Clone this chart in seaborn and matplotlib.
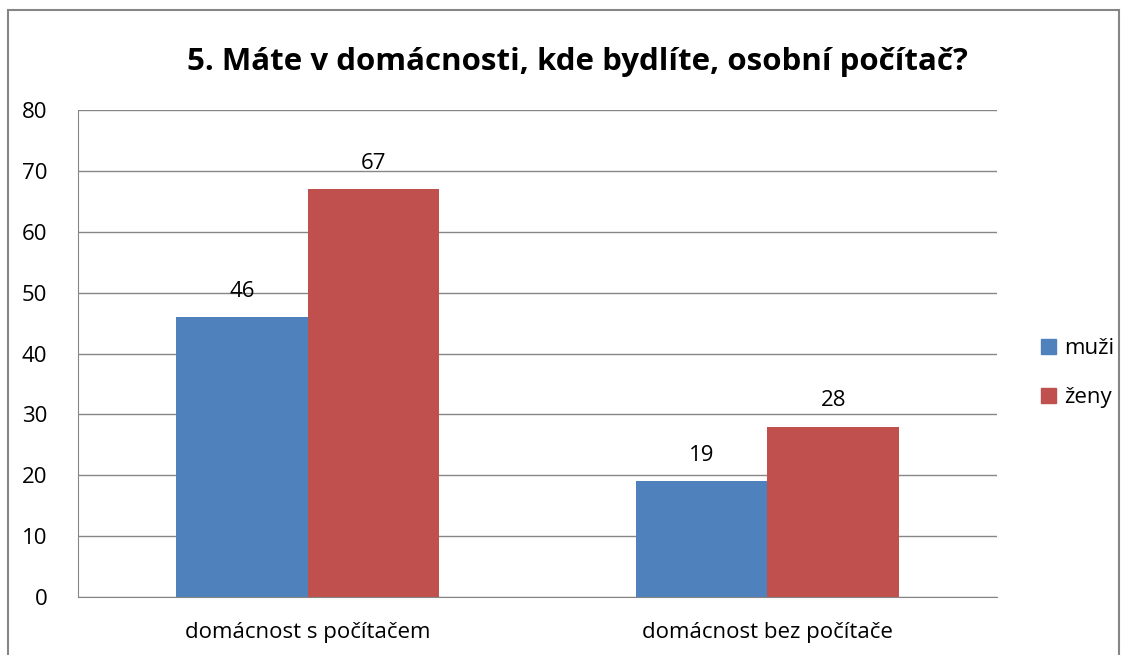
import pandas as pd
import matplotlib
import matplotlib.pyplot as plt
import seaborn as sns
from matplotlib.patches import Rectangle, Patch

matplotlib.use("Agg")

categories = ["domácnost s počítačem", "domácnost bez počítače"]
series = ["muži", "ženy"]
muzi = [46, 19]
zeny = [67, 28]
colors = ["#4F81BD", "#C0504D"]

df = pd.DataFrame({
    "kategorie": categories * 2,
    "pohlavi": [series[0]] * 2 + [series[1]] * 2,
    "pocet": muzi + zeny,
})

sns.set_style("white")
plt.rcParams["font.family"] = ["Open Sans", "DejaVu Sans"]
plt.rcParams["text.color"] = "black"

fig = plt.figure(figsize=(11.28, 6.55), dpi=100)
ax = fig.add_axes([0.0691, 0.0885, 0.815, 0.7435])

sns.barplot(data=df, x="kategorie", y="pocet", hue="pohlavi", palette=colors,
            width=0.572, gap=0, saturation=1, ax=ax, legend=False, linewidth=0)

for cont in ax.containers:
    ax.bar_label(cont, padding=11, fontsize=16, color="black")

ax.set_ylim(0, 80)
ax.set_yticks(range(0, 81, 10))
ax.yaxis.grid(True, color="#868686", linewidth=1)
ax.set_axisbelow(True)
ax.set_xlabel("")
ax.set_ylabel("")
ax.tick_params(axis="both", labelsize=16, length=0, colors="black")
ax.tick_params(axis="x", pad=18)
ax.tick_params(axis="y", pad=22)
for side in ["top", "right"]:
    ax.spines[side].set_visible(False)
for side in ["left", "bottom"]:
    ax.spines[side].set_color("#868686")

fig.text(0.512, 0.905, "5. Máte v domácnosti, kde bydlíte, osobní počítač?",
         ha="center", va="center", fontsize=22.5, fontweight="bold", color="black")

handles = [Patch(color=c, label=s) for c, s in zip(colors, series)]
fig.legend(handles=handles, loc="center left", bbox_to_anchor=(0.905, 0.43),
           frameon=False, fontsize=16, handlelength=0.7, handleheight=0.7,
           handletextpad=0.35, labelspacing=1.25)

fig.patches.append(Rectangle((8 / 1128, -0.01), 1111 / 1128, 1.01 - 10 / 655,
                             transform=fig.transFigure, fill=False,
                             edgecolor="#868686", linewidth=1.5))

fig.savefig("out.png", dpi=100)
